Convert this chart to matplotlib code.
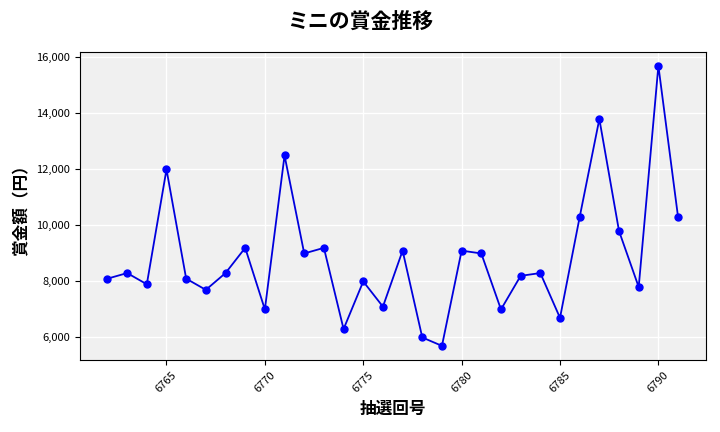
import matplotlib
matplotlib.use("Agg")
import matplotlib.pyplot as plt
from matplotlib.ticker import FuncFormatter

plt.rcParams['font.family'] = ['Noto Sans CJK JP', 'DejaVu Sans']

draws = list(range(6762, 6792))
prizes = [8100, 8300, 7900, 12000, 8100, 7700, 8300, 9200, 7000, 12500,
          9000, 9200, 6300, 8000, 7100, 9100, 6000, 5700, 9100, 9000,
          7000, 8200, 8300, 6700, 10300, 13800, 9800, 7800, 15700, 10300]

fig = plt.figure(figsize=(7.2, 4.32), dpi=100)
ax = fig.add_axes([0.111, 0.167, 0.869, 0.713])
ax.set_facecolor('#f0f0f0')
ax.grid(True, color='white', linewidth=1)
ax.set_axisbelow(True)
ax.plot(draws, prizes, color='#0000dd', marker='o', markersize=5, linewidth=1.3,
        markerfacecolor='blue', markeredgecolor='blue')
ax.set_xticks([6765, 6770, 6775, 6780, 6785, 6790])
ax.set_yticks([6000, 8000, 10000, 12000, 14000, 16000])
ax.yaxis.set_major_formatter(FuncFormatter(lambda v, p: f"{int(v):,}"))
ax.tick_params(axis='x', labelrotation=45, labelsize=8)
ax.tick_params(axis='y', labelsize=8)
ax.set_xlim(6760.6, 6792.4)
ax.set_ylim(5200, 16200)
ax.set_xlabel('抽選回号', fontsize=12, fontweight='bold')
ax.set_ylabel('賞金額（円）', fontsize=12, fontweight='bold')
fig.suptitle('ミニの賞金推移', fontsize=15, fontweight='bold', y=0.975)
fig.savefig('out.png', dpi=100)
